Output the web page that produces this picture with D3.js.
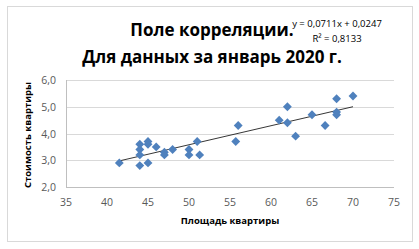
<!DOCTYPE html>
<html><head><meta charset="utf-8">
<script src="https://cdn.jsdelivr.net/npm/d3@7"></script>
<style>html,body{margin:0;padding:0;background:#fff;}svg{display:block;}</style>
</head><body>
<script>
const areas = [41.5,44,44,44,44,45,45,45,46,47,47,48,50,50,51,51.3,55.7,56,61,62,62,63,65,66.6,68,68,68,70];
const prices = [2.9,3.6,3.4,3.2,2.8,3.7,3.6,2.9,3.5,3.3,3.2,3.4,3.4,3.2,3.7,3.2,3.7,4.3,4.5,5.0,4.4,3.9,4.7,4.3,5.3,4.8,4.7,5.4];
const xTicks = [35,40,45,50,55,60,65,70,75];
const yTicks = [2,3,4,5,6];
const slope = 0.0711, intercept = 0.0247;
const titleLines = ["Поле корреляции.", "Для данных за январь 2020 г."];
const eqLines = ["y = 0,0711x + 0,0247", "R² = 0,8133"];
const xTitle = "Площадь квартиры", yTitle = "Стоимость квартиры";

const W=419,H=249;
const svg=d3.select("body").append("svg").attr("width",W).attr("height",H);
svg.append("rect").attr("x",7.5).attr("y",6.5).attr("width",405).attr("height",235).attr("fill","#fff").attr("stroke","#d9d9d9");
const x=d3.scaleLinear().domain([35,75]).range([66,394]);
const y=d3.scaleLinear().domain([2,6]).range([187,80]);
const font="'Open Sans', sans-serif";
// gridlines
svg.append("g").selectAll("line").data(yTicks).join("line")
  .attr("x1",x(35)).attr("x2",x(75)).attr("y1",d=>Math.round(y(d))+0.5).attr("y2",d=>Math.round(y(d))+0.5)
  .attr("stroke",d=>d===2?"#bfbfbf":"#d9d9d9");
svg.append("line").attr("x1",x(35)+0.5).attr("x2",x(35)+0.5).attr("y1",y(6)).attr("y2",y(2)).attr("stroke","#bfbfbf");
// tick labels
svg.append("g").selectAll("text").data(yTicks).join("text")
  .attr("x",56).attr("y",d=>y(d)+4).attr("text-anchor","end").attr("font-family",font).attr("font-size",10.5).attr("fill","#595959")
  .text(d=>d3.format(".1f")(d).replace(".",","));
svg.append("g").selectAll("text").data(xTicks).join("text")
  .attr("x",d=>x(d)).attr("y",206).attr("text-anchor","middle").attr("font-family",font).attr("font-size",10.5).attr("fill","#595959")
  .text(d=>d);
// trendline
const x0=d3.min(areas),x1=d3.max(areas);
svg.append("line").attr("x1",x(x0)).attr("y1",y(slope*x0+intercept)).attr("x2",x(x1)).attr("y2",y(slope*x1+intercept))
  .attr("stroke","#1f1f1f").attr("stroke-width",0.9);
// points
const sym=d3.symbol().type(d3.symbolDiamond2).size(50);
svg.append("g").selectAll("path").data(areas.map((a,i)=>[a,prices[i]])).join("path")
  .attr("d",sym).attr("transform",d=>`translate(${x(d[0])},${y(d[1])})`).attr("fill","#4f81bd");
// titles
svg.append("g").selectAll("text").data(titleLines).join("text")
  .attr("x",212).attr("y",(d,i)=>36+i*27).attr("text-anchor","middle").attr("font-family",font).attr("font-weight","bold")
  .attr("font-size",17).attr("fill","#000").text(d=>d);
svg.append("g").selectAll("text").data(eqLines).join("text")
  .attr("x",337).attr("y",(d,i)=>27+i*15).attr("text-anchor","middle").attr("font-family",font)
  .attr("font-size",9.5).attr("fill","#000").text(d=>d);
svg.append("text").attr("x",230).attr("y",224).attr("text-anchor","middle").attr("font-family",font).attr("font-weight","bold")
  .attr("font-size",9.5).attr("fill","#000").text(xTitle);
svg.append("text").attr("transform","translate(31,135) rotate(-90)").attr("text-anchor","middle").attr("font-family",font).attr("font-weight","bold")
  .attr("font-size",9.5).attr("fill","#000").text(yTitle);
</script>
</body></html>
